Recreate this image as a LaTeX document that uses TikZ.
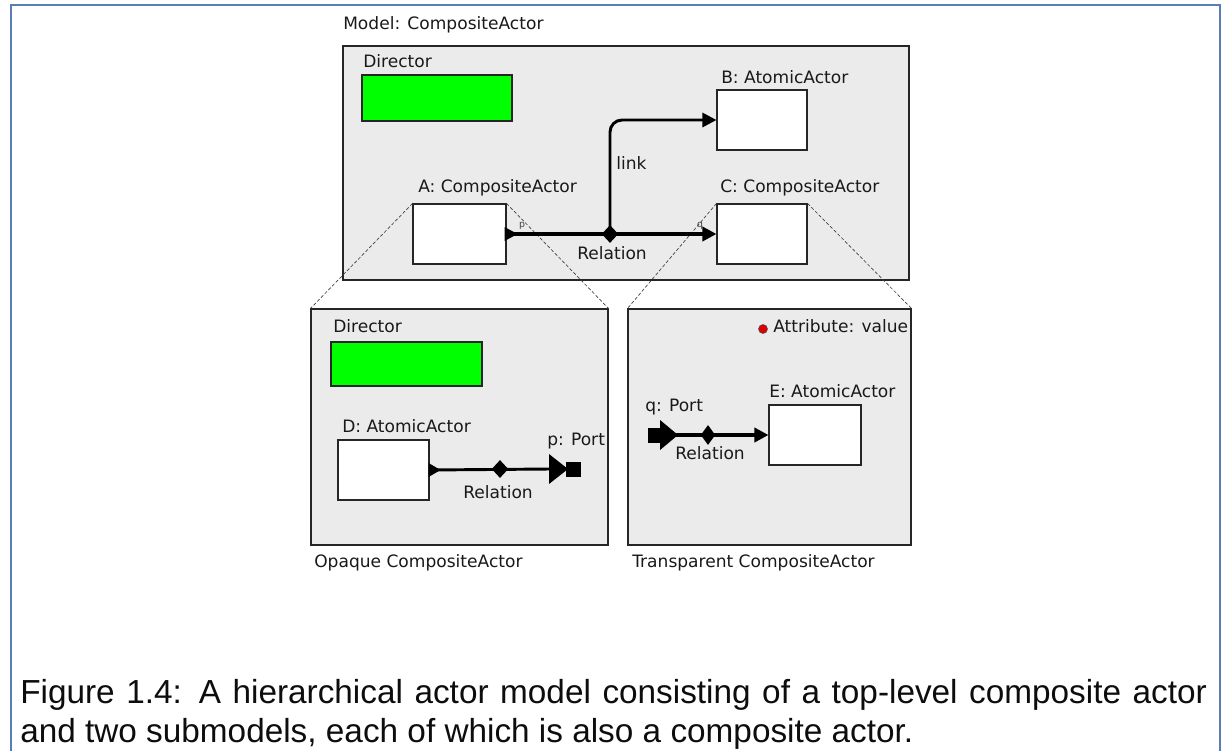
\documentclass[tikz,border=0pt]{standalone}
\usepackage{fontspec}
\setmainfont{Liberation Sans}
\newfontfamily\diagfont{DejaVu Sans}
\usetikzlibrary{arrows.meta,shapes.geometric,fit}
\definecolor{panelgray}{HTML}{EBEBEB}
\definecolor{dirgreen}{HTML}{00FF00}
\definecolor{framecol}{HTML}{5A7DB5}
\definecolor{attrred}{HTML}{DD0000}
\begin{document}
\begin{tikzpicture}[x=0.75pt,y=-0.75pt,
  panel/.style={draw=black!85, line width=0.8pt, fill=panelgray, inner sep=0pt},
  actor/.style={draw=black!85, line width=0.8pt, fill=white, inner sep=0pt},
  director/.style={draw=black!85, line width=0.8pt, fill=dirgreen, inner sep=0pt},
  lbl/.style={font=\diagfont\fontsize{12.8}{15}\selectfont, anchor=west, inner sep=0pt, text height=9.5pt, text depth=2.5pt, text=black!90},
  clbl/.style={lbl, anchor=center},
  portlbl/.style={font=\diagfont\fontsize{7}{8}\selectfont, inner sep=0pt, text=black!75},
  relation/.style={diamond, fill=black, inner sep=0pt, minimum width=12.5pt, minimum height=13.5pt},
  zoomline/.style={dash pattern=on 2.5pt off 1.5pt, line width=0.5pt, draw=black!75},
  mainconn/.style={line width=3.2pt, -{Triangle[length=10.5pt,width=10.5pt]}},
  linkconn/.style={line width=2.2pt, rounded corners=9pt, -{Triangle[length=10.5pt,width=10.5pt]}},
  thinconn/.style={line width=2.2pt},
  caption/.style={anchor=base west, inner sep=0pt, font=\fontsize{25}{30}\selectfont, text=black!95}
]
\useasboundingbox (0,0) rectangle (1227,750);
% page frame
\draw[framecol, line width=1pt] (11,751) -- (11,5) -- (1220,5) -- (1220,751);

% ---------- top level model ----------
\node[lbl] (tmodel) at (343,25) {Model: CompositeActor};
\node[panel, fit={(343,46) (909,280)}] (top) {};
\node[lbl] (tdirl) at (363,63) {Director};
\node[director, fit={(362,75) (512,121)}] (tdir) {};
\node[lbl] (Bl) at (721,79) {B: AtomicActor};
\node[actor, fit={(717,90) (807,150)}] (B) {};
\node[lbl] (Al) at (418,188) {A: CompositeActor};
\node[actor, fit={(413,204) (506,264)}] (A) {};
\node[lbl] (Cl) at (720,188) {C: CompositeActor};
\node[actor, fit={(717,204) (807,264)}] (C) {};

% ---------- lower panels ----------
\node[panel, fit={(311,309) (608,545)}] (opq) {};
\node[panel, fit={(628,309) (911,545)}] (trn) {};

% zoom lines
\draw[zoomline] (A.north west) -- (opq.north west);
\draw[zoomline] (A.north east) -- (opq.north east);
\draw[zoomline] (C.north west) -- (trn.north west);
\draw[zoomline] (C.north east) -- (trn.north east);

% top relation
\draw[mainconn] (A.east) -- (C.west);
\fill (A.east) ++(-2,-7) -- ++(13,7) -- ++(-13,7) -- cycle;
\node[relation] (r1) at (610,234) {};
\draw[linkconn] (r1.center) |- (B.west);
\node[lbl] (linkl) at (616,165) {link};
\node[clbl] (r1l) at (612,255) {Relation};
\node[portlbl] (pl) at (522,226) {p};
\node[portlbl] (ql) at (700,226) {q};

% ---------- opaque composite ----------
\node[lbl] (odirl) at (333,328) {Director};
\node[director, fit={(331,342) (482,386)}] (odir) {};
\node[lbl] (Dl) at (342,428) {D: AtomicActor};
\node[actor, fit={(338,440) (429,500)}] (D) {};
\coordinate (pP) at (549,469);
\draw[thinconn] (D.east) -- (pP);
\fill (D.east) ++(-1,-7) -- ++(12,7) -- ++(-12,7) -- cycle;
\fill (pP) ++(0,-15) -- ++(19,15) -- ++(-19,15) -- cycle;
\fill (pP) ++(17,-7.5) rectangle ++(15,15);
\node[relation] (r2) at (500,469) {};
\node[lbl] (pPl) at (547,441) {p: Port};
\node[clbl] (r2l) at (498,494) {Relation};
\node[lbl] (opql) at (314,563) {Opaque CompositeActor};

% ---------- transparent composite ----------
\fill[attrred, draw=black!70, line width=0.4pt] (763,329) circle[radius=4.5];
\node[lbl] (attrl) at (773,328) {Attribute: value};
\node[lbl] (El) at (769,393) {E: AtomicActor};
\node[actor, fit={(769,405) (861,465)}] (E) {};
\coordinate (qP) at (660,435);
\fill (qP) ++(-12,-7.5) rectangle ++(13,15);
\fill (qP) ++(0,-15) -- ++(18,15) -- ++(-18,15) -- cycle;
\draw[mainconn] (qP) -- (E.west);
\node[relation, minimum width=11pt, minimum height=15pt] (r3) at (708,435) {};
\node[lbl] (qPl) at (645,407) {q: Port};
\node[clbl] (r3l) at (710,455) {Relation};
\node[lbl] (trnl) at (632,563) {Transparent CompositeActor};

% ---------- caption ----------
\node[caption] (cap1) at (20,703) {\makebox[890pt][s]{Figure 1.4: A hierarchical actor model consisting of a top-level composite actor}};
\node[caption] (cap2) at (20,742) {and two submodels, each of which is also a composite actor.};
\end{tikzpicture}
\end{document}
